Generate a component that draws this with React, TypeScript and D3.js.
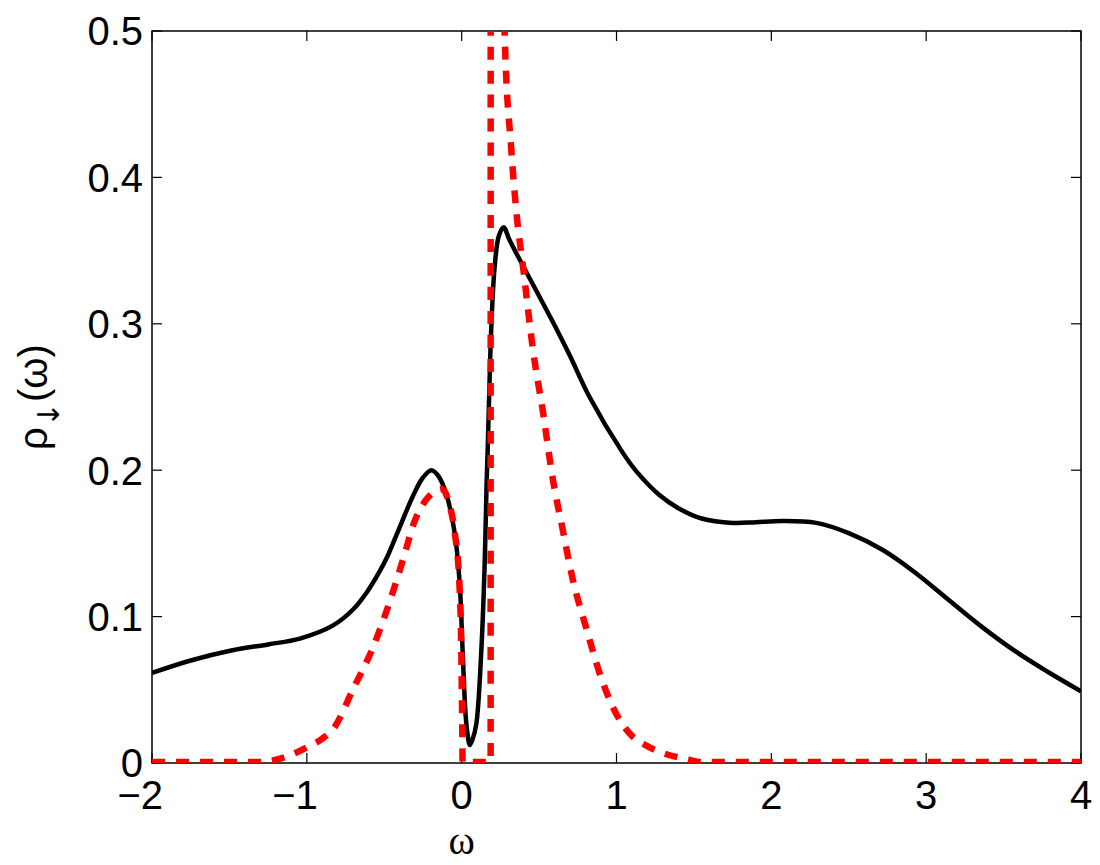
import { useMemo } from "react";
import * as d3 from "d3";

// spectral function, solid black curve
const blackOmega = [
  -2, -1.75, -1.48, -1.25, -1.045, -0.83, -0.7, -0.61, -0.529, -0.48, -0.42,
  -0.316, -0.25, -0.195, -0.15, -0.1, -0.045, -0.013, 0.006, 0.026, 0.04, 0.052,
  0.07, 0.095, 0.127, 0.148, 0.161, 0.168, 0.18, 0.19, 0.213, 0.24, 0.271, 0.31,
  0.394, 0.5, 0.61, 0.7, 0.826, 1.04, 1.13, 1.277, 1.4, 1.55, 1.75, 1.9, 2.07,
  2.29, 2.5, 2.72, 2.93, 3.15, 3.36, 3.58, 3.79, 4,
];
const blackRho = [
  0.0615, 0.07, 0.077, 0.081, 0.085, 0.094, 0.105, 0.117, 0.131, 0.141, 0.156,
  0.182, 0.195, 0.2, 0.196, 0.184, 0.157, 0.123, 0.077, 0.032, 0.018, 0.0123,
  0.016, 0.027, 0.077, 0.134, 0.191, 0.214, 0.26, 0.294, 0.339, 0.36, 0.366,
  0.357, 0.34, 0.319, 0.297, 0.278, 0.25, 0.212, 0.199, 0.183, 0.174, 0.167,
  0.164, 0.1645, 0.1653, 0.164, 0.157, 0.1455, 0.13, 0.111, 0.093, 0.076, 0.062,
  0.049,
];

// red dashed curve (diverges just above omega = 0.19)
const redOmega = [
  -2, -1.3, -1.15, -1.0, -0.9, -0.83, -0.7, -0.57, -0.46, -0.36, -0.316, -0.25,
  -0.206, -0.13, -0.077, -0.045, -0.013, -0.003, 0.003, 0.006, 0.187, 0.1875,
  0.26, 0.277, 0.32, 0.353, 0.4, 0.46, 0.525, 0.589, 0.652, 0.717, 0.806, 0.89,
  0.974, 1.08, 1.18, 1.277, 1.45, 1.55, 4,
];
const redRho = [
  0, 0, 0.003, 0.01, 0.016, 0.0225, 0.05, 0.079, 0.111, 0.145, 0.161, 0.176,
  0.182, 0.1865, 0.175, 0.157, 0.118, 0.08, 0.03, 0, 0, 0.8, 0.8, 0.5, 0.419,
  0.376, 0.335, 0.282, 0.239, 0.193, 0.159, 0.125, 0.091, 0.061, 0.038, 0.02,
  0.012, 0.007, 0.002, 0, 0,
];

const xTicks = [-2, -1, 0, 1, 2, 3, 4];
const yTicks = [0, 0.1, 0.2, 0.3, 0.4, 0.5];

const WIDTH = 1100;
const HEIGHT = 865;
const MARGIN = { top: 31, right: 19, bottom: 102, left: 152 };
const FONT = "'Liberation Sans', Arial, Helvetica, sans-serif";
const TICK = 10;

export default function App() {
  const innerW = WIDTH - MARGIN.left - MARGIN.right;
  const innerH = HEIGHT - MARGIN.top - MARGIN.bottom;

  const xScale = useMemo(
    () => d3.scaleLinear().domain([-2, 4]).range([0, innerW]),
    [innerW]
  );
  const yScale = useMemo(
    () => d3.scaleLinear().domain([0, 0.5]).range([innerH, 0]),
    [innerH]
  );

  const smoothLine = d3
    .line<[number, number]>()
    .x((d) => xScale(d[0]))
    .y((d) => yScale(d[1]))
    .curve(d3.curveCatmullRom.alpha(0.5));

  const monoLine = d3
    .line<[number, number]>()
    .x((d) => xScale(d[0]))
    .y((d) => yScale(d[1]))
    .curve(d3.curveMonotoneX);

  const blackPath = smoothLine(blackOmega.map((w, i) => [w, blackRho[i]]));
  const redPath = monoLine(redOmega.map((w, i) => [w, redRho[i]]));

  return (
    <svg
      width={WIDTH}
      height={HEIGHT}
      style={{ position: "absolute", left: 0, top: 0, background: "#fff" }}
    >
      <defs>
        <clipPath id="plot-clip">
          <rect x={0} y={0} width={innerW} height={innerH} />
        </clipPath>
      </defs>
      <g transform={`translate(${MARGIN.left},${MARGIN.top})`}>
        {/* box and inward ticks */}
        <rect
          x={0}
          y={0}
          width={innerW}
          height={innerH}
          fill="none"
          stroke="#000"
          strokeWidth={1.5}
        />
        {xTicks.map((t) => (
          <g key={"x" + t} stroke="#000" strokeWidth={1.2}>
            <line x1={xScale(t)} x2={xScale(t)} y1={innerH} y2={innerH - TICK} />
            <line x1={xScale(t)} x2={xScale(t)} y1={0} y2={TICK} />
          </g>
        ))}
        {yTicks.map((t) => (
          <g key={"y" + t} stroke="#000" strokeWidth={1.2}>
            <line x1={0} x2={TICK} y1={yScale(t)} y2={yScale(t)} />
            <line x1={innerW} x2={innerW - TICK} y1={yScale(t)} y2={yScale(t)} />
          </g>
        ))}

        {/* tick labels */}
        {xTicks.map((t) => (
          <text
            key={"xl" + t}
            x={t < 0 ? xScale(t) + 11 : xScale(t)}
            y={innerH + 46}
            textAnchor={t < 0 ? "end" : "middle"}
            fontFamily={FONT}
            fontSize={40}
          >
            {t < 0 ? "\u2212" + Math.abs(t) : String(t)}
          </text>
        ))}
        {yTicks.map((t) => (
          <text
            key={"yl" + t}
            x={-9}
            y={yScale(t)}
            dy="0.36em"
            textAnchor="end"
            fontFamily={FONT}
            fontSize={40}
          >
            {t === 0 ? "0" : t.toFixed(1)}
          </text>
        ))}

        {/* curves */}
        <g clipPath="url(#plot-clip)">
          <path d={blackPath ?? ""} fill="none" stroke="#000" strokeWidth={4.5} />
        </g>
        <g clipPath="url(#plot-clip)">
          <path
            d={redPath ?? ""}
            fill="none"
            stroke="#ff0000"
            strokeWidth={6.5}
            strokeDasharray="13 11"
            transform="translate(0,-1)"
          />
        </g>
      </g>

      {/* axis titles */}
      <text
        x={MARGIN.left + xScale(0)}
        y={854}
        textAnchor="middle"
        fontFamily="'Liberation Serif', 'Times New Roman', serif"
        fontSize={40}
      >
        ω
      </text>
      <text
        transform="translate(47,397) rotate(-90)"
        textAnchor="middle"
        fontFamily={FONT}
        fontSize={40}
      >
        ρ
        <tspan dy={12} fontSize={30} fontFamily="'DejaVu Sans', sans-serif">
          ↓
        </tspan>
        <tspan dy={-12}>(ω)</tspan>
      </text>
    </svg>
  );
}
